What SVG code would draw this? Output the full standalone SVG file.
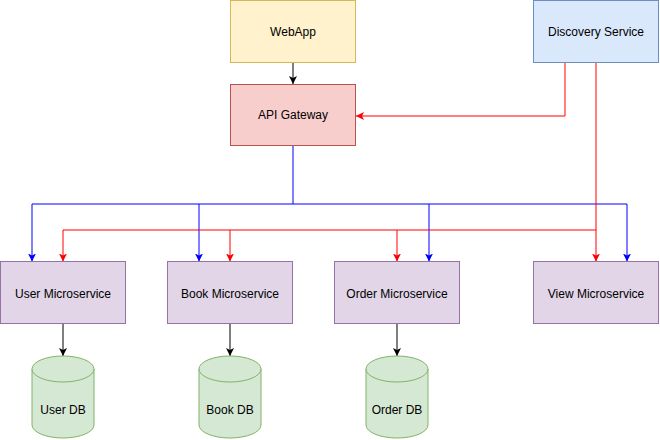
<svg xmlns="http://www.w3.org/2000/svg" width="660" height="440" viewBox="0 0 660 440">
<style>
text{font-family:"Liberation Sans",Arial,sans-serif;font-size:12px;fill:#000;text-anchor:middle;dominant-baseline:central}
.web{fill:#fff2cc;stroke:#d6b656}
.api{fill:#f8cecc;stroke:#b85450}
.disc{fill:#dae8fc;stroke:#6c8ebf}
.ms{fill:#e1d5e7;stroke:#9673a6}
.db{fill:#d5e8d4;stroke:#82b366}
.k{fill:none;stroke:#000;stroke-width:1;marker-end:url(#ak)}
.b{fill:none;stroke:#0000ff;stroke-width:1;marker-end:url(#ab)}
.r{fill:none;stroke:#ff0000;stroke-width:1;marker-end:url(#ar)}
.bl{fill:none;stroke:#0000ff;stroke-width:1}
.rl{fill:none;stroke:#ff0000;stroke-width:1}
</style>
<defs>
<marker id="ak" viewBox="0 0 8 8" refX="8" refY="4" markerWidth="8" markerHeight="8" markerUnits="userSpaceOnUse" orient="auto"><path d="M0,0 L8,4 L0,8 L2,4 Z" fill="#000"/></marker>
<marker id="ab" viewBox="0 0 8 8" refX="8" refY="4" markerWidth="8" markerHeight="8" markerUnits="userSpaceOnUse" orient="auto"><path d="M0,0 L8,4 L0,8 L2,4 Z" fill="#0000ff"/></marker>
<marker id="ar" viewBox="0 0 8 8" refX="8" refY="4" markerWidth="8" markerHeight="8" markerUnits="userSpaceOnUse" orient="auto"><path d="M0,0 L8,4 L0,8 L2,4 Z" fill="#ff0000"/></marker>
</defs>
<rect width="660" height="440" fill="#fff"/>
<g id="connectors">
<path class="k" d="M293,63 V84"/>
<path class="r" d="M565,63 V116 H356"/>
<path class="bl" d="M293,146 V204 H32"/>
<path class="bl" d="M293,204 H627"/>
<path class="b" d="M32,204 V261.5"/>
<path class="b" d="M199,204 V261.5"/>
<path class="b" d="M429,204 V261.5"/>
<path class="b" d="M627,204 V261.5"/>
<path class="r" d="M596,63 V261.5"/>
<path class="rl" d="M596,230 H63"/>
<path class="r" d="M63,230 V261.5"/>
<path class="r" d="M230,230 V261.5"/>
<path class="r" d="M397,230 V261.5"/>
<path class="k" d="M63,324 V356"/>
<path class="k" d="M230,324 V356"/>
<path class="k" d="M397,324 V356"/>
</g>
<g id="webapp"><rect class="web" x="230.5" y="0.5" width="125" height="62"/><text x="293" y="32">WebApp</text></g>
<g id="apigateway"><rect class="api" x="230.5" y="84.5" width="125" height="61"/><text x="293" y="115">API Gateway</text></g>
<g id="discovery"><rect class="disc" x="533.5" y="0.5" width="125" height="62"/><text x="596" y="32">Discovery Service</text></g>
<g id="usermicroservice"><rect class="ms" x="0.5" y="261.5" width="125" height="62"/><text x="63" y="294">User Microservice</text></g>
<g id="bookmicroservice"><rect class="ms" x="167.5" y="261.5" width="125" height="62"/><text x="230" y="294">Book Microservice</text></g>
<g id="ordermicroservice"><rect class="ms" x="334.5" y="261.5" width="125" height="62"/><text x="397" y="294">Order Microservice</text></g>
<g id="viewmicroservice"><rect class="ms" x="533.5" y="261.5" width="125" height="62"/><text x="596" y="294">View Microservice</text></g>
<g id="userdb"><path class="db" d="M32,369 A31,13 0 0 1 94,369 V425 A31,13 0 0 1 32,425 Z"/><path class="db" fill="none" d="M32,369 A31,13 0 0 0 94,369"/><text x="63" y="410">User DB</text></g>
<g id="bookdb"><path class="db" d="M199,369 A31,13 0 0 1 261,369 V425 A31,13 0 0 1 199,425 Z"/><path class="db" d="M199,369 A31,13 0 0 0 261,369"/><text x="230" y="410">Book DB</text></g>
<g id="orderdb"><path class="db" d="M366,369 A31,13 0 0 1 428,369 V425 A31,13 0 0 1 366,425 Z"/><path class="db" d="M366,369 A31,13 0 0 0 428,369"/><text x="397" y="410">Order DB</text></g>
</svg>
